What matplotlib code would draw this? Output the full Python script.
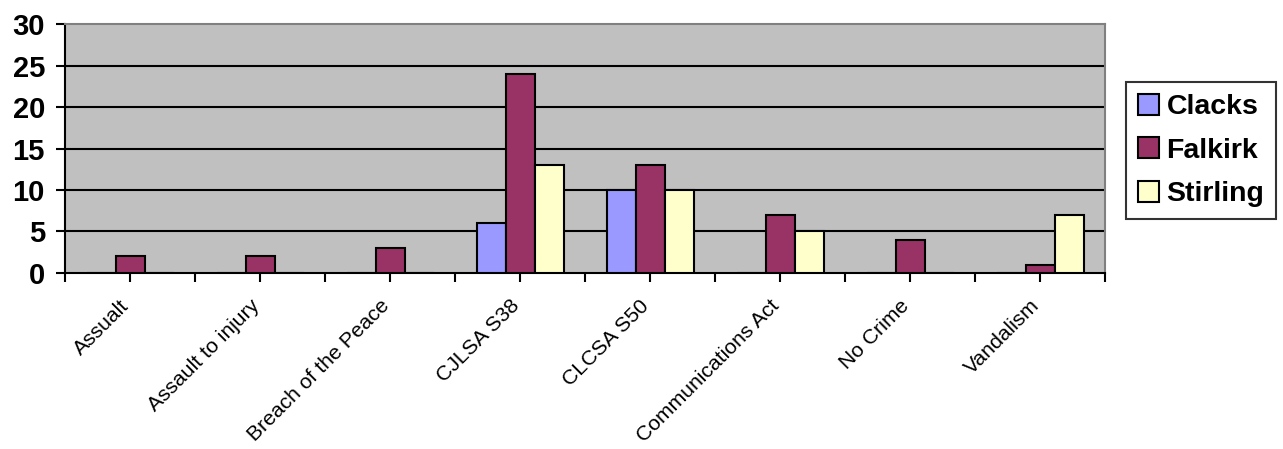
"""Grouped bar chart of offence counts by area."""

import matplotlib
matplotlib.use('Agg')
import matplotlib.pyplot as plt
import numpy as np

categories = ['Assualt', 'Assault to injury', 'Breach of the Peace', 'CJLSA S38',
              'CLCSA S50', 'Communications Act', 'No Crime', 'Vandalism']
clacks = [0, 0, 0, 6, 10, 0, 0, 0]
falkirk = [2, 2, 3, 24, 13, 7, 4, 1]
stirling = [0, 0, 0, 13, 10, 5, 0, 7]
series = [('Clacks', clacks, '#9999FF'),
          ('Falkirk', falkirk, '#993366'),
          ('Stirling', stirling, '#FFFFCC')]
y_ticks = [0, 5, 10, 15, 20, 25, 30]

plt.rcParams['font.family'] = ['Liberation Sans', 'DejaVu Sans']

fig = plt.figure(figsize=(12.83, 4.49), dpi=100)
ax = fig.add_axes([0.0507, 0.392, 0.8106, 0.5545])
ax.set_facecolor('#C0C0C0')

x = np.arange(len(categories)) + 0.5
width = 0.223
for i, (name, vals, color) in enumerate(series):
    ax.bar(x + (i - 1) * width, vals, width, color=color, edgecolor='black',
           linewidth=1.5, label=name, zorder=3)

ax.set_xlim(0, len(categories))
ax.set_ylim(0, 30)
ax.set_yticks(y_ticks)
ax.set_yticklabels([str(t) for t in y_ticks], fontsize=21, fontweight='bold')
for t in y_ticks[1:-1]:
    ax.axhline(t, color='black', linewidth=1.5, zorder=1)

ax.set_xticks(np.arange(0, len(categories) + 0.01, 0.5))
ax.set_xticklabels([])
for xc, lab in zip(x, categories):
    ax.text(xc - 0.08, -2.8, lab, rotation=45, ha='right', va='top',
            rotation_mode='anchor', fontsize=15.2, transform=ax.transData)

ax.tick_params(axis='both', direction='out', length=6.5, width=1.5, color='black')
ax.tick_params(axis='y', pad=8)

ax.spines['left'].set_linewidth(1.5)
ax.spines['bottom'].set_linewidth(1.5)
ax.spines['top'].set_color('#808080')
ax.spines['right'].set_color('#808080')
ax.spines['top'].set_linewidth(1.5)
ax.spines['right'].set_linewidth(1.5)

leg = fig.legend(loc='upper left', bbox_to_anchor=(0.8776, 0.8174),
                 borderaxespad=0, prop={'size': 20.5, 'weight': 'bold'},
                 frameon=True, fancybox=False, edgecolor='black',
                 handlelength=0.75, handleheight=0.75, handletextpad=0.25,
                 labelspacing=0.6, borderpad=0.42)
leg.get_frame().set_linewidth(1.5)

fig.savefig('out.png', dpi=100)
plt.close(fig)
